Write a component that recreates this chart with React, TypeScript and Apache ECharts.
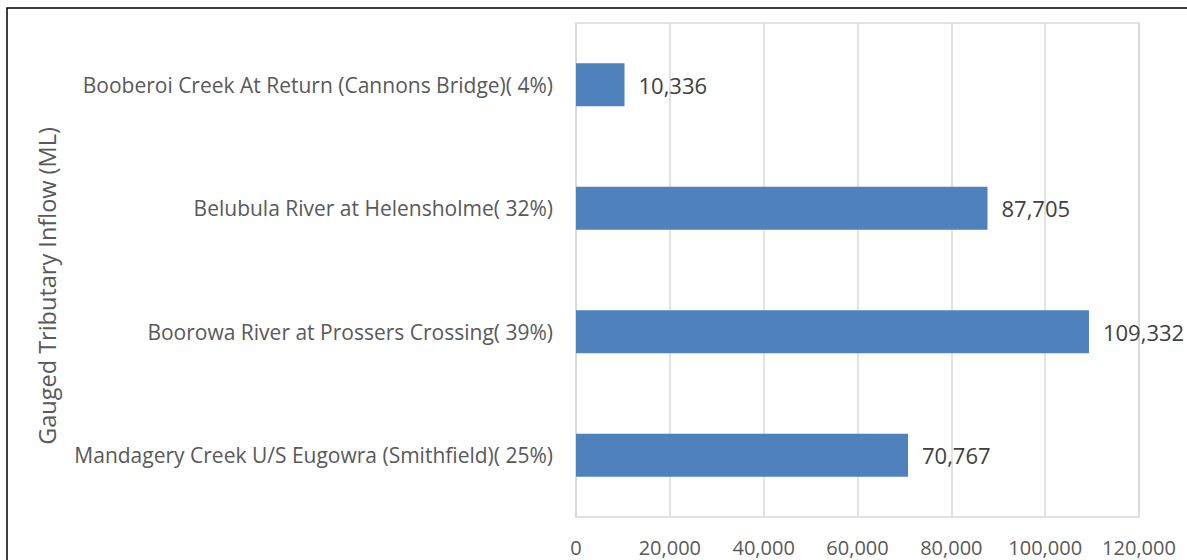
import React, { useEffect, useRef } from "react";
import * as echarts from "echarts";

const categories = [
  "Booberoi Creek At Return (Cannons Bridge)( 4%)",
  "Belubula River at Helensholme( 32%)",
  "Boorowa River at Prossers Crossing( 39%)",
  "Mandagery Creek U/S Eugowra (Smithfield)( 25%)",
];
const inflows = [10336, 87705, 109332, 70767];
const axisName = "Gauged Tributary Inflow (ML)";
const xMin = 0;
const xMax = 120000;
const xInterval = 20000;

const FONT = "'Open Sans', 'Noto Sans', sans-serif";

export default function App() {
  const ref = useRef<HTMLDivElement>(null);
  useEffect(() => {
    document.body.style.margin = "0";
    if (!ref.current) return;
    const chart = echarts.init(ref.current, null, { renderer: "svg" });
    chart.setOption({
      animation: false,
      backgroundColor: "#ffffff",
      grid: {
        left: 576,
        right: 48,
        top: 23,
        bottom: 43,
        show: true,
        borderColor: "#d9d9d9",
        borderWidth: 1.5,
      },
      xAxis: {
        type: "value",
        min: xMin,
        max: xMax,
        interval: xInterval,
        axisLine: { show: false },
        axisTick: { show: false },
        splitLine: { lineStyle: { color: "#d9d9d9", width: 1.5 } },
        axisLabel: {
          color: "#595959",
          fontSize: 20,
          fontFamily: FONT,
          margin: 20,
          formatter: (v: number) => v.toLocaleString("en-US"),
        },
      },
      yAxis: {
        type: "category",
        data: categories,
        inverse: true,
        axisLine: { show: true, lineStyle: { color: "#d9d9d9", width: 1.5 } },
        axisTick: { show: false },
        axisLabel: { color: "#595959", fontSize: 21, fontFamily: FONT, margin: 23 },
      },
      series: [
        {
          type: "bar",
          data: inflows,
          barWidth: 43,
          itemStyle: { color: "#4f81bd" },
          label: {
            show: true,
            position: "right",
            distance: 14,
            color: "#404040",
            fontSize: 22,
            fontFamily: FONT,
            formatter: (p: any) => Number(p.value).toLocaleString("en-US"),
          },
        },
      ],
      graphic: [
        {
          type: "rect",
          shape: { x: 7, y: 8, width: 1200, height: 600 },
          style: { fill: "none", stroke: "#000000", lineWidth: 1.5 },
          silent: true,
        },
        {
          type: "text",
          x: 47,
          y: 286,
          rotation: Math.PI / 2,
          silent: true,
          style: {
            text: axisName,
            fill: "#595959",
            fontSize: 23.5,
            fontFamily: FONT,
            align: "center",
            verticalAlign: "middle",
          },
        },
      ],
    });
    return () => chart.dispose();
  }, []);
  return <div ref={ref} style={{ width: 1187, height: 560 }} />;
}
